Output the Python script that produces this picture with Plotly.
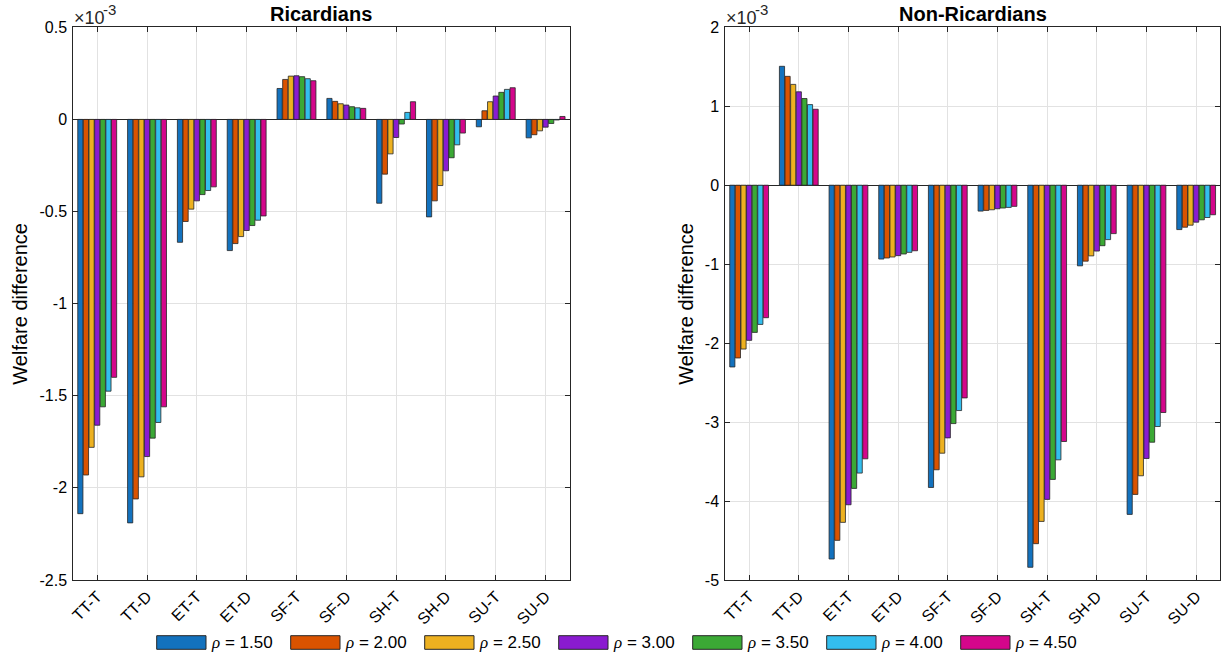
import plotly.graph_objects as go

# Welfare differences, in units of 1e-3
categories = ["TT-T", "TT-D", "ET-T", "ET-D", "SF-T", "SF-D", "SH-T", "SH-D", "SU-T", "SU-D"]
rho_labels = ["1.50", "2.00", "2.50", "3.00", "3.50", "4.00", "4.50"]

ric_rho_150 = [-2.14, -2.19, -0.667, -0.712, 0.168, 0.114, -0.455, -0.529, -0.040, -0.100]
ric_rho_200 = [-1.93, -2.06, -0.554, -0.674, 0.217, 0.098, -0.297, -0.442, 0.047, -0.083]
ric_rho_250 = [-1.78, -1.94, -0.487, -0.636, 0.235, 0.085, -0.187, -0.359, 0.096, -0.062]
ric_rho_300 = [-1.66, -1.83, -0.442, -0.603, 0.237, 0.078, -0.098, -0.279, 0.127, -0.042]
ric_rho_350 = [-1.56, -1.73, -0.408, -0.576, 0.232, 0.069, -0.025, -0.208, 0.147, -0.022]
ric_rho_400 = [-1.475, -1.645, -0.386, -0.547, 0.221, 0.063, 0.038, -0.138, 0.163, -0.003]
ric_rho_450 = [-1.40, -1.56, -0.366, -0.524, 0.210, 0.060, 0.096, -0.074, 0.172, 0.016]

nonric_rho_150 = [-2.302, 1.506, -4.734, -0.935, -3.828, -0.328, -4.839, -1.021, -4.169, -0.562]
nonric_rho_200 = [-2.188, 1.379, -4.498, -0.922, -3.604, -0.319, -4.540, -0.962, -3.916, -0.532]
nonric_rho_250 = [-2.075, 1.277, -4.270, -0.909, -3.394, -0.311, -4.258, -0.895, -3.680, -0.506]
nonric_rho_300 = [-1.965, 1.183, -4.047, -0.892, -3.200, -0.298, -3.979, -0.834, -3.461, -0.468]
nonric_rho_350 = [-1.864, 1.098, -3.840, -0.871, -3.019, -0.289, -3.726, -0.766, -3.255, -0.438]
nonric_rho_400 = [-1.763, 1.021, -3.646, -0.850, -2.854, -0.281, -3.478, -0.689, -3.056, -0.409]
nonric_rho_450 = [-1.678, 0.962, -3.465, -0.830, -2.694, -0.268, -3.246, -0.613, -2.879, -0.374]

ric_series = [ric_rho_150, ric_rho_200, ric_rho_250, ric_rho_300, ric_rho_350, ric_rho_400, ric_rho_450]
nonric_series = [nonric_rho_150, nonric_rho_200, nonric_rho_250, nonric_rho_300,
                 nonric_rho_350, nonric_rho_400, nonric_rho_450]

ric_ticks = [-2.5, -2, -1.5, -1, -0.5, 0, 0.5]
ric_ticktext = ["-2.5", "-2", "-1.5", "-1", "-0.5", "0", "0.5"]
nonric_ticks = [-5, -4, -3, -2, -1, 0, 1, 2]
nonric_ticktext = ["-5", "-4", "-3", "-2", "-1", "0", "1", "2"]

colors = ["#1372BE", "#DA5300", "#EDB120", "#8A1BD0", "#3BA935", "#33BEEE", "#D4068B"]
edge = "#262626"
W, H = 1223, 659
FONT = "Liberation Sans, Arial, Helvetica, sans-serif"
SERIF = "Liberation Serif, Times New Roman, serif"

fig = go.Figure()
for i, lab in enumerate(rho_labels):
    fig.add_trace(go.Bar(x=categories, y=ric_series[i], name=f"ρ = {lab}",
                         marker=dict(color=colors[i], line=dict(color=edge, width=0.8)),
                         xaxis="x", yaxis="y", showlegend=False))
for i, lab in enumerate(rho_labels):
    fig.add_trace(go.Bar(x=categories, y=nonric_series[i], name=f"ρ = {lab}",
                         marker=dict(color=colors[i], line=dict(color=edge, width=0.8)),
                         xaxis="x2", yaxis="y2", showlegend=False))

left_px = (73.3, 569.5)
right_px = (725.3, 1220.0)
top_px, bot_px = 27.3, 580.0
ydom = [1 - bot_px / H, 1 - top_px / H]

axis_common = dict(showline=True, linecolor=edge, linewidth=1, mirror="ticks",
                   ticks="inside", ticklen=5, tickcolor=edge, showgrid=True,
                   gridcolor="#E2E2E2", gridwidth=1, automargin=False,
                   tickfont=dict(family=FONT, size=16, color="#000000"))

xcommon = dict(axis_common, type="category", range=[-0.48, 9.48], tickangle=-45,
               zeroline=False)

fig.update_layout(
    width=W, height=H, margin=dict(l=0, r=0, t=0, b=0, autoexpand=False),
    paper_bgcolor="white", plot_bgcolor="white",
    barmode="group", bargap=0.21, bargroupgap=0.08,
    font=dict(family=FONT, size=16, color="#000000"),
    xaxis=dict(xcommon, domain=[left_px[0] / W, left_px[1] / W], anchor="y"),
    xaxis2=dict(xcommon, domain=[right_px[0] / W, right_px[1] / W], anchor="y2"),
    yaxis=dict(axis_common, domain=ydom, range=[-2.5, 0.5], tickvals=ric_ticks,
               ticktext=ric_ticktext, zeroline=True, zerolinecolor=edge,
               zerolinewidth=1, anchor="x", ticklabelstandoff=2),
    yaxis2=dict(axis_common, domain=ydom, range=[-5, 2], tickvals=nonric_ticks,
                ticktext=nonric_ticktext, zeroline=True, zerolinecolor=edge,
                zerolinewidth=1, anchor="x2", ticklabelstandoff=2),
)

annotations = []
for (x0, x1), title in [(left_px, "Ricardians"), (right_px, "Non-Ricardians")]:
    annotations.append(dict(text=f"<b>{title}</b>", x=(x0 + x1) / 2 / W, y=1 - 14 / H,
                            xref="paper", yref="paper", showarrow=False,
                            xanchor="center", yanchor="middle",
                            font=dict(family=FONT, size=20, color="#000000")))
    # exponent label of the y axis: "×10" with a raised "-3"
    annotations.append(dict(text="×10", x=(x0 - 1) / W, y=1 - 18 / H,
                            xref="paper", yref="paper", showarrow=False,
                            xanchor="left", yanchor="middle",
                            font=dict(family=FONT, size=18, color="#262626")))
    annotations.append(dict(text="-3", x=(x0 + 28) / W, y=1 - 10 / H,
                            xref="paper", yref="paper", showarrow=False,
                            xanchor="left", yanchor="middle",
                            font=dict(family=FONT, size=15, color="#262626")))
for xc in (20, 686):
    annotations.append(dict(text="Welfare difference", x=xc / W, y=1 - (top_px + bot_px) / 2 / H,
                            xref="paper", yref="paper", showarrow=False, textangle=-90,
                            xanchor="center", yanchor="middle",
                            font=dict(family=FONT, size=20, color="#000000")))

# Legend row along the bottom
shapes = []
for i, lab in enumerate(rho_labels):
    rx0 = 156.7 + 134.0 * i
    rx1 = rx0 + 49.3
    shapes.append(dict(type="rect", xref="paper", yref="paper",
                       x0=rx0 / W, x1=rx1 / W, y0=1 - 649.3 / H, y1=1 - 635.7 / H,
                       fillcolor=colors[i], line=dict(color=edge, width=1)))
    annotations.append(dict(text=f"<span style='font-family:{SERIF}'><i>ρ</i></span> = {lab}",
                            x=(rx1 + 3) / W, y=1 - 642.5 / H,
                            xref="paper", yref="paper", showarrow=False,
                            xanchor="left", yanchor="middle",
                            font=dict(family=FONT, size=17, color="#000000")))

fig.update_layout(annotations=annotations, shapes=shapes)
fig.write_html("out.html")
